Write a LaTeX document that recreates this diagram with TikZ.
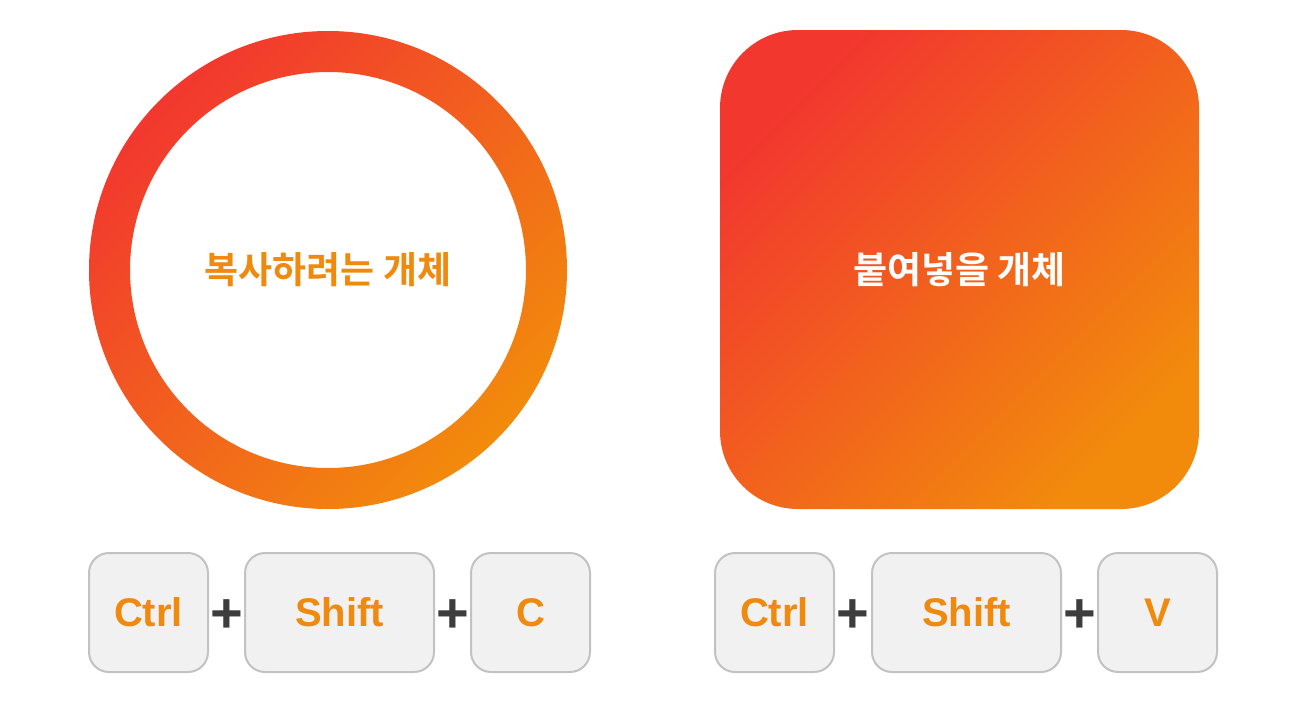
\documentclass[tikz,border=0pt]{standalone}
\usepackage{fontspec}
\newfontfamily\krfont{Noto Sans CJK KR}[BoldFont={Noto Sans CJK KR Bold}]
\newfontfamily\latfont{Liberation Sans}
\definecolor{gA}{HTML}{F2372F}
\definecolor{gB}{HTML}{F28B0C}
\definecolor{txt}{HTML}{F08A0E}
\definecolor{keyfill}{HTML}{F1F1F1}
\definecolor{keyedge}{HTML}{C2C2C2}
\definecolor{plusc}{HTML}{3D3D3D}
\begin{document}
\begin{tikzpicture}[x=1pt,y=-1pt,
  grad/.style={left color=gA, right color=gB, shading angle=45},
  keybox/.style={draw=keyedge, line width=2pt, fill=keyfill, rounded corners=20pt,
    minimum height=119pt, inner sep=0pt, text=txt, font=\latfont\bfseries\fontsize{40}{40}\selectfont},
  plussign/.style={text=plusc, inner sep=0pt, font=\latfont\bfseries\fontsize{56}{56}\selectfont},
  label/.style={inner sep=0pt, font=\krfont\bfseries\fontsize{37}{37}\selectfont}]
\useasboundingbox[fill=white] (0,0) rectangle (1309,712);
% ring
\shade[grad, even odd rule] (328,270) circle[radius=239] (328,270) circle[radius=198];
\node[label, text=txt] (src) at (328,270) {복사하려는 개체};
% rounded square
\shade[grad, rounded corners=78pt] (720,30) rectangle (1199,509);
\node[label, text=white] (dst) at (959.5,270) {붙여넣을 개체};
% keys left
\node[keybox, minimum width=119pt] (c1) at (148.5,612.5) {Ctrl};
\node[keybox, minimum width=189pt] (s1) at (339.5,612.5) {Shift};
\node[keybox, minimum width=119pt] (k1) at (530.5,612.5) {C};
\node[plussign] (p1) at (227,616) {+};
\node[plussign] (p2) at (452.5,616) {+};
% keys right
\node[keybox, minimum width=119pt] (c2) at (774.5,612.5) {Ctrl};
\node[keybox, minimum width=189pt] (s2) at (966.5,612.5) {Shift};
\node[keybox, minimum width=119pt] (k2) at (1157.5,612.5) {V};
\node[plussign] (p3) at (853,616) {+};
\node[plussign] (p4) at (1079.5,616) {+};
\end{tikzpicture}
\end{document}
